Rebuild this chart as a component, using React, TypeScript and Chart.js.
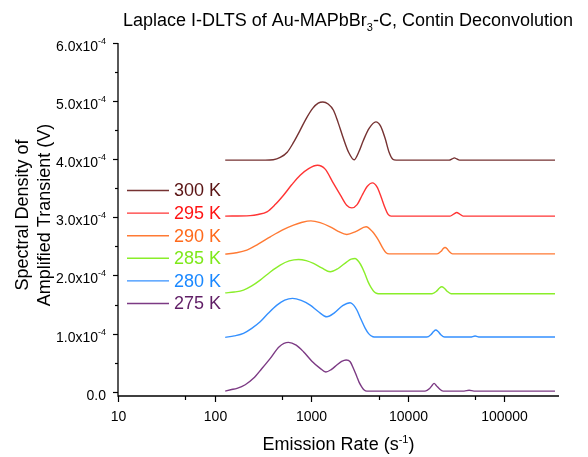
import React, { useEffect, useRef } from 'react';
import { Chart, registerables } from 'chart.js';

Chart.register(...registerables);

const FONT = '"Liberation Sans", Arial, Helvetica, sans-serif';

// Series labels and colours (top to bottom in the legend)
const SERIES_LABELS = ['300 K', '295 K', '290 K', '285 K', '280 K', '275 K'];
const LINE_COLORS = ['#763232', '#ff3434', '#ff7a34', '#8aee2a', '#3490ff', '#7c3a84'];
const TEXT_COLORS = ['#5a1414', '#ff1414', '#ff6a1c', '#7ee81a', '#1a88ff', '#601e66'];

// Emission rates (s^-1) and spectral density values (in units of 1e-4 V)
const rate300 = [129, 335, 405, 479, 566, 653, 771, 890, 1044, 1185, 1325, 1503, 1706, 1907, 2163, 2448, 2792, 3111, 3487, 3992, 4688, 5251, 5845, 6430, 7026, 7603, 26900, 28900, 30500, 32290, 34500, 336500];
const val300 = [3.984, 3.984, 3.99, 4.03, 4.12, 4.28, 4.5, 4.7, 4.88, 4.965, 4.985, 4.95, 4.843, 4.63, 4.356, 4.12, 3.99, 4.12, 4.327, 4.53, 4.642, 4.57, 4.36, 4.12, 4.0, 3.984, 3.984, 4.005, 4.024, 4.005, 3.984, 3.984];

const rate295 = [129, 234, 283, 349, 425, 518, 630, 771, 944, 1165, 1400, 1706, 2051, 2338, 2645, 3000, 3380, 3808, 4324, 4834, 5317, 5845, 6280, 6750, 27540, 30270, 32290, 34360, 37560, 336500];
const val295 = [3.021, 3.03, 3.05, 3.094, 3.22, 3.381, 3.56, 3.725, 3.84, 3.897, 3.83, 3.583, 3.36, 3.21, 3.163, 3.22, 3.38, 3.53, 3.593, 3.52, 3.35, 3.16, 3.05, 3.021, 3.021, 3.06, 3.084, 3.06, 3.021, 3.021];

const rate290 = [129, 168, 216, 283, 378, 502, 658, 809, 995, 1242, 1578, 1907, 2347, 2931, 3716, 4290, 4986, 5575, 5988, 6430, 20200, 22230, 23290, 24440, 25630, 26900, 29240, 336500];
const val290 = [2.367, 2.39, 2.436, 2.54, 2.665, 2.78, 2.866, 2.915, 2.94, 2.91, 2.837, 2.76, 2.706, 2.76, 2.837, 2.76, 2.608, 2.46, 2.39, 2.372, 2.372, 2.415, 2.46, 2.482, 2.46, 2.415, 2.372, 2.372];

const rate285 = [129, 160, 199.5, 243, 297, 378, 479, 593, 741, 890, 1059, 1288, 1578, 1907, 2347, 2602, 2862, 3111, 3380, 3630, 3899, 4190, 4500, 4834, 5190, 17900, 19950, 21280, 22580, 23990, 25630, 28180, 336500];
const val285 = [1.7, 1.715, 1.748, 1.82, 1.92, 2.06, 2.178, 2.25, 2.276, 2.255, 2.207, 2.13, 2.063, 2.12, 2.235, 2.28, 2.293, 2.24, 2.14, 2.02, 1.89, 1.79, 1.72, 1.69, 1.685, 1.685, 1.73, 1.78, 1.805, 1.78, 1.73, 1.685, 1.685];

const rate280 = [129, 160, 199.5, 243, 297, 360, 443, 533, 642, 790, 979, 1185, 1457, 1755, 2124, 2541, 2761, 2981, 3261, 3630, 3946, 4365, 4720, 15810, 17500, 18570, 19580, 20700, 21970, 24150, 44700, 50000, 56000, 336500];
const val280 = [0.935, 0.96, 1.004, 1.09, 1.203, 1.35, 1.49, 1.575, 1.606, 1.57, 1.49, 1.38, 1.289, 1.36, 1.48, 1.53, 1.49, 1.405, 1.26, 1.095, 1.0, 0.945, 0.94, 0.94, 0.985, 1.035, 1.061, 1.035, 0.985, 0.94, 0.94, 0.958, 0.94, 0.94];

const rate275 = [129, 147, 171, 208, 253, 308, 378, 468, 583, 701, 834, 1014, 1242, 1422, 1614, 1849, 2074, 2307, 2541, 2748, 2981, 3148, 3357, 3548, 3781, 15170, 16900, 17790, 18800, 19950, 21180, 23290, 38470, 43330, 48700, 336500];
const val275 = [0.01, 0.033, 0.058, 0.12, 0.23, 0.395, 0.574, 0.775, 0.849, 0.8, 0.688, 0.53, 0.402, 0.339, 0.38, 0.459, 0.52, 0.545, 0.516, 0.4, 0.258, 0.16, 0.08, 0.03, 0.01, 0.01, 0.055, 0.1, 0.144, 0.1, 0.055, 0.01, 0.01, 0.025, 0.01, 0.01];

const SERIES_RATES = [rate300, rate295, rate290, rate285, rate280, rate275];
const SERIES_VALUES = [val300, val295, val290, val285, val280, val275];
const VALUE_UNIT = 1e-4;

// Axes
const X_MIN = 10;
const X_MAX = 370000;
const Y_MIN = -0.074e-4;
const Y_MAX = 6e-4;
const X_MAJOR_TICKS = [10, 100, 1000, 10000, 100000];
const X_MINOR_TICKS = [50, 500, 5000, 50000];
const Y_MAJOR_TICKS = [0, 1, 2, 3, 4, 5, 6];
const Y_MINOR_TICKS = [0.5, 1.5, 2.5, 3.5, 4.5, 5.5];

const TITLE_MAIN = 'Laplace I-DLTS of Au-MAPbBr';
const TITLE_SUB = '3';
const TITLE_END = '-C, Contin Deconvolution';
const X_TITLE = 'Emission Rate (s';
const X_TITLE_SUP = '-1';
const Y_TITLE_1 = 'Spectral Density of';
const Y_TITLE_2 = 'Amplified Transient (V)';

type Part = { t: string; size: number; dy: number };

function richWidth(ctx: CanvasRenderingContext2D, parts: Part[]) {
  let w = 0;
  for (const p of parts) {
    ctx.font = `${p.size}px ${FONT}`;
    w += ctx.measureText(p.t).width;
  }
  return w;
}

function drawRich(ctx: CanvasRenderingContext2D, parts: Part[], x: number, y: number, align: 'left' | 'right' | 'center') {
  const w = richWidth(ctx, parts);
  let cx = align === 'left' ? x : align === 'right' ? x - w : x - w / 2;
  ctx.textAlign = 'left';
  ctx.textBaseline = 'alphabetic';
  for (const p of parts) {
    ctx.font = `${p.size}px ${FONT}`;
    ctx.fillText(p.t, cx, y + p.dy);
    cx += ctx.measureText(p.t).width;
  }
}

const overlayPlugin = {
  id: 'overlay',
  afterDraw(chart: any) {
    const ctx: CanvasRenderingContext2D = chart.ctx;
    const { left, right, top, bottom } = chart.chartArea;
    const xs = chart.scales.x;
    const ys = chart.scales.y;
    ctx.save();
    ctx.strokeStyle = '#000';
    ctx.fillStyle = '#000';
    ctx.lineWidth = 1.3;
    ctx.beginPath();
    ctx.moveTo(left, top);
    ctx.lineTo(left, bottom);
    ctx.lineTo(right, bottom);
    ctx.stroke();

    ctx.lineWidth = 1.2;
    for (const v of Y_MAJOR_TICKS) {
      const y = Math.round(ys.getPixelForValue(v * VALUE_UNIT)) + 0.5;
      ctx.beginPath();
      ctx.moveTo(left - 5, y);
      ctx.lineTo(left, y);
      ctx.stroke();
      if (v === 0) {
        drawRich(ctx, [{ t: '0.0', size: 14, dy: 0 }], left - 12, y + 7, 'right');
      } else {
        drawRich(ctx, [
          { t: `${v}.0x10`, size: 14, dy: 0 },
          { t: '-4', size: 9, dy: -7 },
        ], left - 12, y + 7, 'right');
      }
    }
    for (const v of Y_MINOR_TICKS) {
      const y = Math.round(ys.getPixelForValue(v * VALUE_UNIT)) + 0.5;
      ctx.beginPath();
      ctx.moveTo(left - 3, y);
      ctx.lineTo(left, y);
      ctx.stroke();
    }
    for (const v of X_MAJOR_TICKS) {
      const x = Math.round(xs.getPixelForValue(v)) + 0.5;
      ctx.beginPath();
      ctx.moveTo(x, bottom);
      ctx.lineTo(x, bottom + 6);
      ctx.stroke();
      drawRich(ctx, [{ t: String(v), size: 14, dy: 0 }], x, bottom + 25, 'center');
    }
    for (const v of X_MINOR_TICKS) {
      const x = Math.round(xs.getPixelForValue(v)) + 0.5;
      ctx.beginPath();
      ctx.moveTo(x, bottom);
      ctx.lineTo(x, bottom + 4);
      ctx.stroke();
    }

    drawRich(ctx, [
      { t: X_TITLE, size: 18, dy: 0 },
      { t: X_TITLE_SUP, size: 11, dy: -7 },
      { t: ')', size: 18, dy: 0 },
    ], (left + right) / 2, bottom + 54, 'center');

    drawRich(ctx, [
      { t: TITLE_MAIN, size: 18, dy: 0 },
      { t: TITLE_SUB, size: 11, dy: 5 },
      { t: TITLE_END, size: 18, dy: 0 },
    ], 123, 26, 'left');

    ctx.font = `18px ${FONT}`;
    ctx.textAlign = 'center';
    ctx.textBaseline = 'middle';
    const cy = 215;
    ctx.save();
    ctx.translate(23, cy);
    ctx.rotate(-Math.PI / 2);
    ctx.fillText(Y_TITLE_1, 0, 0);
    ctx.restore();
    ctx.save();
    ctx.translate(45, cy);
    ctx.rotate(-Math.PI / 2);
    ctx.fillText(Y_TITLE_2, 0, 0);
    ctx.restore();

    const lx0 = 127;
    const lx1 = 169;
    const ly0 = 190.5;
    const step = 22.6;
    SERIES_LABELS.forEach((lab, i) => {
      const y = ly0 + i * step;
      ctx.strokeStyle = LINE_COLORS[i];
      ctx.lineWidth = 1.4;
      ctx.beginPath();
      ctx.moveTo(lx0, y);
      ctx.lineTo(lx1, y);
      ctx.stroke();
      ctx.fillStyle = TEXT_COLORS[i];
      ctx.font = `18px ${FONT}`;
      ctx.textAlign = 'left';
      ctx.textBaseline = 'middle';
      ctx.fillText(lab, 174, y + 1);
    });
    ctx.restore();
  },
};

export default function App() {
  const ref = useRef<HTMLCanvasElement>(null);
  useEffect(() => {
    const datasets = SERIES_LABELS.map((lab, i) => ({
      label: lab,
      data: SERIES_RATES[i].map((r, j) => ({ x: r, y: SERIES_VALUES[i][j] * VALUE_UNIT })),
      borderColor: LINE_COLORS[i],
      backgroundColor: LINE_COLORS[i],
      borderWidth: 1.4,
      pointRadius: 0,
      fill: false,
      cubicInterpolationMode: 'monotone' as const,
    }));
    const chart = new Chart(ref.current!, {
      type: 'line',
      data: { datasets },
      options: {
        animation: false,
        responsive: false,
        maintainAspectRatio: false,
        events: [],
        layout: { padding: { left: 118, right: 29, top: 43, bottom: 61 } },
        scales: {
          x: { type: 'logarithmic', display: false, min: X_MIN, max: X_MAX },
          y: { type: 'linear', display: false, min: Y_MIN, max: Y_MAX },
        },
        plugins: {
          legend: { display: false },
          title: { display: false },
          tooltip: { enabled: false },
        },
      },
      plugins: [overlayPlugin],
    });
    return () => chart.destroy();
  }, []);
  return (
    <div style={{ position: 'absolute', left: 0, top: 0, width: 588, height: 457, background: '#fff' }}>
      <canvas ref={ref} width={588} height={457} style={{ display: 'block', width: 588, height: 457 }} />
    </div>
  );
}
